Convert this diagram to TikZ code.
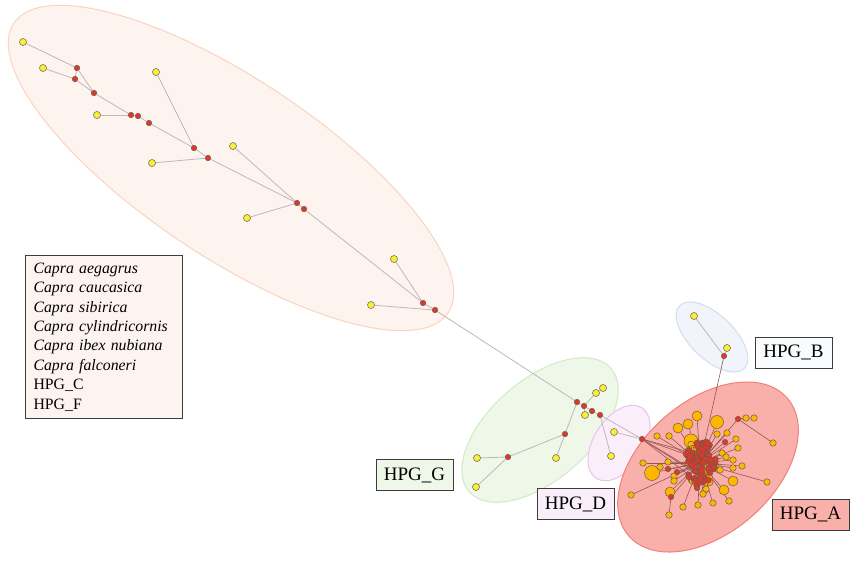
\documentclass[tikz,border=0pt]{standalone}
\usepackage{fontspec}
\setmainfont{Liberation Serif}
\usetikzlibrary{calc}

\definecolor{hapyellow}{RGB}{246,240,60}
\definecolor{hapred}{RGB}{222,55,45}
\definecolor{haporange}{RGB}{255,182,0}
\definecolor{hapedge}{RGB}{110,90,70}
\definecolor{linkgray}{RGB}{190,184,184}
\definecolor{linkdark}{RGB}{150,85,85}
\definecolor{tagedge}{RGB}{60,60,60}
\definecolor{wildfill}{RGB}{253,244,240}
\definecolor{wilddraw}{RGB}{250,212,192}
\definecolor{gfill}{RGB}{238,247,232}
\definecolor{gdraw}{RGB}{208,235,196}
\definecolor{dfill}{RGB}{249,238,249}
\definecolor{ddraw}{RGB}{232,196,234}
\definecolor{bfill}{RGB}{241,245,251}
\definecolor{bdraw}{RGB}{205,224,242}
\definecolor{afill}{RGB}{250,176,170}
\definecolor{adraw}{RGB}{242,128,120}

\pgfdeclarelayer{hulls}
\pgfdeclarelayer{links}
\pgfsetlayers{hulls,links,main}

\tikzset{
  hap/.style={circle,draw=hapedge,line width=0.5pt,inner sep=0pt,minimum size=#1},
  yhap/.style={hap=7pt,fill=hapyellow},
  rhap/.style={hap=5.5pt,fill=hapred},
  ohap/.style={hap=#1,fill=haporange},
  link/.style={draw=linkgray,line width=0.8pt},
  alink/.style={draw=linkdark,line width=0.6pt},
  hull/.style={line width=1pt},
  tag/.style={draw=tagedge,line width=0.9pt,minimum width=77pt,minimum height=31pt,
    inner sep=0pt,font=\fontsize{19}{22}\selectfont}
}

\begin{document}
\begin{tikzpicture}[x=1pt,y=-1pt]
    \useasboundingbox (0,0) rectangle (858,562);

    \begin{pgfonlayer}{hulls}
      \fill[white] (0,0) rectangle (858,562);
      \draw[hull,fill=wildfill,draw=wilddraw,rotate around={-33.7:(231,168)}]
        (231,168) ellipse [x radius=261pt, y radius=89pt];
      \draw[hull,fill=gfill,draw=gdraw,rotate around={41:(540,430)}]
        (540,430) ellipse [x radius=94pt, y radius=50pt];
      \draw[hull,fill=dfill,draw=ddraw,rotate around={57:(619,443)}]
        (619,443) ellipse [x radius=42pt, y radius=25pt];
      \draw[hull,fill=bfill,draw=bdraw,rotate around={-44:(712,337)}]
        (712,337) ellipse [x radius=45pt, y radius=22pt];
      \draw[hull,fill=afill,draw=adraw,rotate around={41:(708,467)}]
        (708,467) ellipse [x radius=105pt, y radius=66pt];
    \end{pgfonlayer}

    % wild species
    \node[yhap] (y1) at (23,42) {};
    \node[yhap] (y2) at (43,68) {};
    \node[yhap] (y3) at (156,72) {};
    \node[yhap] (y4) at (97,115) {};
    \node[yhap] (y5) at (233,146) {};
    \node[yhap] (y6) at (152,163) {};
    \node[yhap] (y7) at (247,218) {};
    \node[yhap] (y8) at (394,259) {};
    \node[yhap] (y9) at (371,305) {};
    \node[rhap] (r1) at (77,68) {};
    \node[rhap] (r2) at (75,79) {};
    \node[rhap] (r3) at (94,93) {};
    \node[rhap] (r4) at (131,115) {};
    \node[rhap] (r5) at (138,116) {};
    \node[rhap] (r6) at (149,123) {};
    \node[rhap] (r7) at (194,148) {};
    \node[rhap] (r8) at (208,158) {};
    \node[rhap] (r9) at (297,203) {};
    \node[rhap] (r10) at (304,209) {};
    \node[rhap] (r11) at (423,303) {};
    \node[rhap] (r12) at (435,310) {};

    % HPG_G
    \node[rhap] (g1) at (577,402) {};
    \node[rhap] (g2) at (584,406) {};
    \node[rhap] (g3) at (592,411) {};
    \node[rhap] (g4) at (600,415) {};
    \node[rhap] (g5) at (565,434) {};
    \node[rhap] (g6) at (508,457) {};
    \node[yhap] (gy1) at (596,393) {};
    \node[yhap] (gy2) at (603,388) {};
    \node[yhap] (gy3) at (585,415) {};
    \node[yhap] (gy4) at (556,458) {};
    \node[yhap] (gy5) at (477,458) {};
    \node[yhap] (gy6) at (476,487) {};

    % HPG_D
    \node[yhap] (dy1) at (614,432) {};
    \node[yhap] (dy2) at (611,456) {};
    \node[rhap] (dr1) at (642,439) {};

    % HPG_B
    \node[yhap] (by1) at (694,316) {};
    \node[yhap] (by2) at (727,348) {};
    \node[rhap] (br1) at (724,356) {};

    \begin{pgfonlayer}{links}
      \draw[link] (y1) -- (r1) -- (r2) -- (y2);
      \draw[link] (r1) -- (r3) -- (r2);
      \draw[link] (r3) -- (r4) -- (r5) -- (r6) -- (r7) -- (r8) -- (r9) -- (r10) -- (r11) -- (r12) -- (g1);
      \draw[link] (y4) -- (r4);
      \draw[link] (y3) -- (r7);
      \draw[link] (y6) -- (r8);
      \draw[link] (y5) -- (r9);
      \draw[link] (y7) -- (r9);
      \draw[link] (y8) -- (r11);
      \draw[link] (y9) -- (r12);
      \draw[link] (g1) -- (g2) -- (g3) -- (g4);
      \draw[link] (g2) -- (gy1) -- (gy2);
      \draw[link] (g2) -- (gy3);
      \draw[link] (g1) -- (g5) -- (gy4);
      \draw[link] (g5) -- (g6) -- (gy5);
      \draw[link] (g6) -- (gy6);
      \draw[link] (g4) -- (dy2);
      \draw[link] (g4) -- (dr1);
      \draw[link] (dy1) -- (dr1);
      \draw[link] (by1) -- (br1) -- (by2);
    \end{pgfonlayer}

    % HPG_A
    \coordinate (hub) at (700,463);
    \foreach \x/\y [count=\k] in {738/419,725/442,668/469,677/472,671/497,697/488}
      \coordinate (ap\k) at (\x,\y);

    \foreach \x/\y/\d/\t [count=\k] in {
        697/416/10pt/hub, 717/422/13pt/hub, 688/424/10pt/hub, 678/428/10pt/hub,
        657/436/6.5pt/hub, 669/436/6.5pt/hub, 746/418/6.5pt/ap1, 754/418/6.5pt/ap1,
        773/443/6.5pt/ap1, 717/434/6.5pt/hub, 727/433/6.5pt/hub, 736/439/6.5pt/hub,
        738/448/6.5pt/hub, 643/463/6.5pt/hub, 652/473/15pt/hub, 660/467/6.5pt/ap3,
        674/476/6.5pt/hub, 674/481/6.5pt/hub, 670/492/10pt/hub, 722/453/6.5pt/hub,
        726/457/6.5pt/hub, 733/460/6.5pt/hub, 742/466/6.5pt/hub, 733/468/6.5pt/hub,
        720/470/6.5pt/hub, 733/481/10pt/hub, 724/490/10pt/hub, 705/490/6.5pt/hub,
        767/482/6.5pt/hub, 631/495/6.5pt/hub, 669/515/6.5pt/ap5, 683/507/6.5pt/hub,
        698/505/6.5pt/hub, 713/503/6.5pt/hub, 729/501/6.5pt/hub, 706/489/6.5pt/hub,
        703/494/6.5pt/hub, 668/462/6.5pt/hub, 691/441/14pt/hub} {
      \node[ohap=\d] (ao\k) at (\x,\y) {};
      \begin{pgfonlayer}{links}
        \draw[alink] (ao\k) -- (\t);
      \end{pgfonlayer}
    }

    \pgfmathsetseed{11}
    \foreach \k in {1,...,40} {
      \pgfmathsetmacro{\ca}{360*rnd}
      \pgfmathsetmacro{\cr}{sqrt(rnd)}
      \node[ohap=6.5pt] (co\k) at ({700+17*\cr*cos(\ca)},{464+24*\cr*sin(\ca)}) {};
    }
    \foreach \k in {1,...,75} {
      \pgfmathsetmacro{\ca}{360*rnd}
      \pgfmathsetmacro{\cr}{sqrt(rnd)}
      \node[rhap,minimum size=6pt] (c\k) at ({700+16*\cr*cos(\ca)},{463+23*\cr*sin(\ca)}) {};
    }
    \foreach \k in {1,...,6} {
      \node[rhap] (ar\k) at (ap\k) {};
      \begin{pgfonlayer}{links}
        \draw[alink] (ar\k) -- (hub);
      \end{pgfonlayer}
    }

    \begin{pgfonlayer}{links}
      \draw[alink] (br1) -- (hub);
      \foreach \k in {3,9,17,26,33}
        \draw[alink] (dr1) -- (c\k);
    \end{pgfonlayer}

    % labels
    \node[tag,fill=white!60!bfill] (tagB) at (793.5,352.5) {HPG\_B};
    \node[tag,fill=gfill] (tagG) at (414.5,475) {HPG\_G};
    \node[tag,fill=dfill] (tagD) at (575.5,504) {HPG\_D};
    \node[tag,fill=afill] (tagA) at (810.5,514.5) {HPG\_A};

    \node[draw=tagedge,line width=1.1pt,fill=wildfill,anchor=north west,
      minimum width=157pt,minimum height=163pt,inner xsep=8pt,
      text width=141pt,align=left,font=\fontsize{15.8}{19.4}\selectfont]
      (legend) at (25,255) {\textit{Capra aegagrus}\\ \textit{Capra caucasica}\\
        \textit{Capra sibirica}\\ \textit{Capra cylindricornis}\\
        \textit{Capra ibex nubiana}\\ \textit{Capra falconeri}\\ HPG\_C\\ HPG\_F};
\end{tikzpicture}
\end{document}
